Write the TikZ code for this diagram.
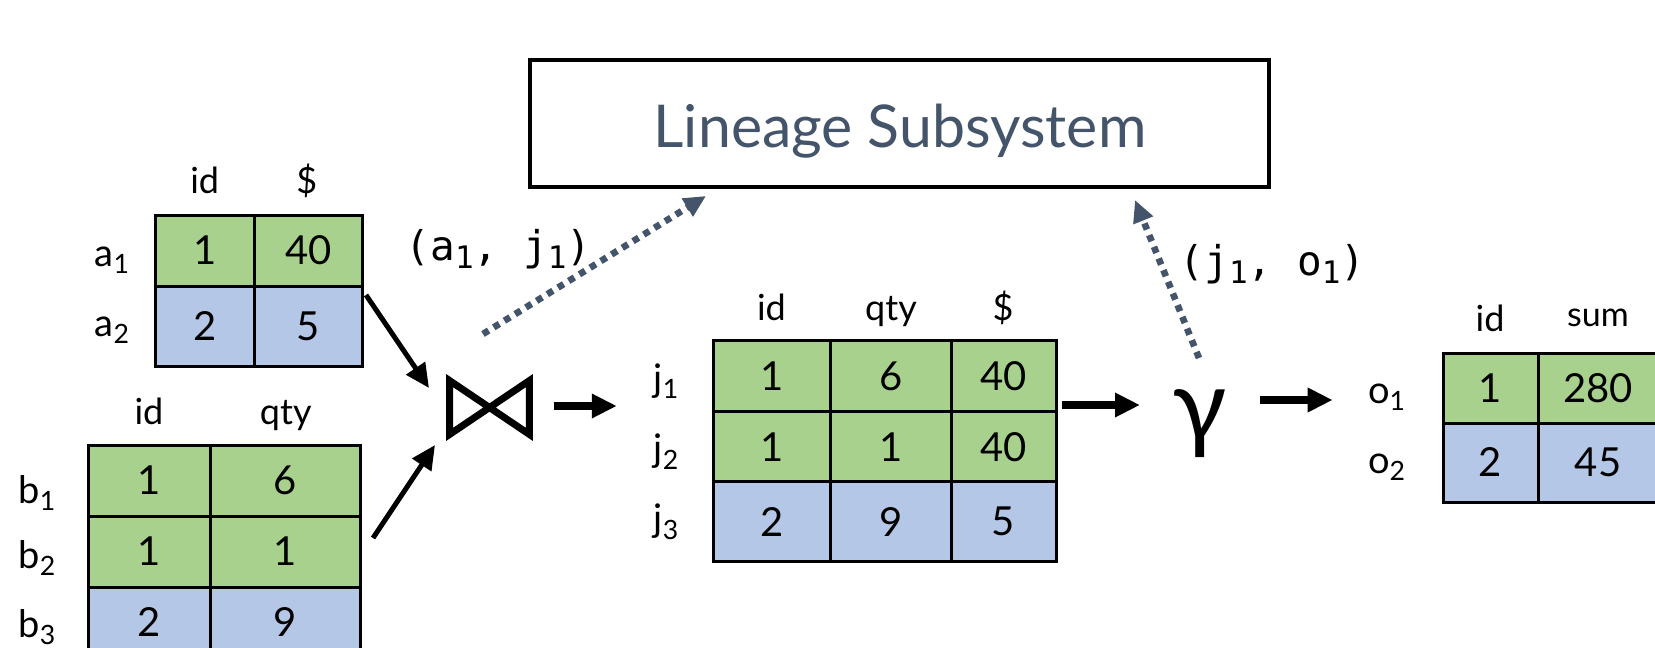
\documentclass[tikz,border=0pt]{standalone}
\usepackage{fontspec}
\setmainfont{Lato}
\newfontfamily\monofam{DejaVu Sans Mono}
\usetikzlibrary{arrows.meta,calc}
\definecolor{cellgreen}{HTML}{A9D18E}
\definecolor{cellblue}{HTML}{B4C7E7}
\definecolor{slate}{HTML}{44546A}
\newlength\pxlen
\setlength\pxlen{0.5pt}
% small lowered digit for the lineage pair labels
\newcommand\monosub[1]{\raisebox{-4pt}{\fontsize{15.5}{16}\selectfont #1}}

\begin{document}
\begin{tikzpicture}[x=0.5pt,y=-0.5pt,
  sz/.style 2 args={minimum width=#1*\pxlen, minimum height=#2*\pxlen},
  cell/.style={draw, line width=1.5pt, inner sep=0pt, font=\fontsize{20}{24}\selectfont},
  gcell/.style={cell, fill=cellgreen},
  bcell/.style={cell, fill=cellblue},
  hdr/.style={anchor=base, inner sep=0pt, font=\fontsize{18}{21}\selectfont},
  rowlab/.style={anchor=base, inner sep=0pt, font=\fontsize{19}{22}\selectfont},
  mono/.style={anchor=base, inner sep=0pt, font=\monofam\fontsize{20.5}{24}\selectfont},
  flow/.style={line width=2.5pt, -{Triangle[length=12pt,width=11pt]}},
  bigflow/.style={line width=4pt, -{Triangle[length=12.5pt,width=11.5pt]}},
  lineage/.style={slate, line width=3.3pt, dash pattern=on 3.3pt off 3pt,
    -{Triangle[length=11pt,width=10pt]}}]

\useasboundingbox (0,0) rectangle (1655,648);
\fill[white] (0,0) rectangle (1655,648);
\clip (0,0) rectangle (1655,648);

% lineage subsystem box
\node[draw, line width=1.6pt, sz={739}{127}] (lineage) at (899.5,123.5) {};
\node[anchor=base, inner sep=0pt, text=slate, font=\fontsize{29.5}{34}\selectfont]
  (lineagelabel) at (900,147) {Lineage Subsystem};

% table a
\node[hdr] (Ah1) at (204.7,193) {id};
\node[hdr] (Ah2) at (306.8,193) {\$};
\node[gcell, sz={99.4}{71}]  (A11) at (204.7,250.5) {1};
\node[gcell, sz={107.6}{71}] (A12) at (308.2,250.5) {40};
\node[bcell, sz={99.4}{80}]  (A21) at (204.7,326) {2};
\node[bcell, sz={107.6}{80}] (A22) at (308.2,326) {5};
\node[rowlab] (Al1) at (112.5,266.7) {a\textsubscript{1}};
\node[rowlab] (Al2) at (112.5,336) {a\textsubscript{2}};

% table b
\node[hdr] (Bh1) at (149,424) {id};
\node[hdr] (Bh2) at (285.8,424) {qty};
\node[gcell, sz={122.4}{71}] (B11) at (149.2,480.5) {1};
\node[gcell, sz={150.1}{71}] (B12) at (285.45,480.5) {6};
\node[gcell, sz={122.4}{71}] (B21) at (149.2,551.5) {1};
\node[gcell, sz={150.1}{71}] (B22) at (285.45,551.5) {1};
\node[bcell, sz={122.4}{71}] (B31) at (149.2,622.5) {2};
\node[bcell, sz={150.1}{71}] (B32) at (285.45,622.5) {9};
\node[rowlab] (Bl1) at (37.5,503) {b\textsubscript{1}};
\node[rowlab] (Bl2) at (37.5,568) {b\textsubscript{2}};
\node[rowlab] (Bl3) at (37.5,637) {b\textsubscript{3}};

% join operator
\node[inner sep=0pt, sz={79}{53}] (join) at (489.5,407.5) {};
\draw[line width=3.5pt] (join.north west) -- (join.south east)
  -- (join.north east) -- (join.south west) -- cycle;

% joined table j
\node[hdr] (Jh1) at (771.4,320) {id};
\node[hdr] (Jh2) at (891,320) {qty};
\node[hdr] (Jh3) at (1003,320) {\$};
\node[gcell, sz={117}{71}]   (J11) at (772,376.2) {1};
\node[gcell, sz={120.4}{71}] (J12) at (890.8,376.2) {6};
\node[gcell, sz={105}{71}]   (J13) at (1003.5,376.2) {40};
\node[gcell, sz={117}{70}]   (J21) at (772,446.7) {1};
\node[gcell, sz={120.4}{70}] (J22) at (890.8,446.7) {1};
\node[gcell, sz={105}{70}]   (J23) at (1003.5,446.7) {40};
\node[bcell, sz={117}{80}]   (J31) at (772,521.7) {2};
\node[bcell, sz={120.4}{80}] (J32) at (890.8,521.7) {9};
\node[bcell, sz={105}{80}]   (J33) at (1003.5,521.7) {5};
\node[rowlab] (Jl1) at (666.5,391.7) {j\textsubscript{1}};
\node[rowlab] (Jl2) at (666.5,461.7) {j\textsubscript{2}};
\node[rowlab] (Jl3) at (666.5,531.7) {j\textsubscript{3}};

% aggregation operator
\node[anchor=base, inner sep=0pt, font=\fontsize{50}{52}\selectfont] (gamma) at (1200,440) {γ};

% output table o
\node[hdr] (Oh1) at (1490,331.7) {id};
\node[hdr, font=\fontsize{17}{20}\selectfont] (Oh2) at (1598,326.7) {sum};
\node[gcell, sz={95}{70}]  (O11) at (1490.5,388) {1};
\node[gcell, sz={120}{70}] (O12) at (1598,388) {280};
\node[bcell, sz={95}{79}]  (O21) at (1490.5,462.5) {2};
\node[bcell, sz={120}{79}] (O22) at (1598,462.5) {45};
\node[rowlab] (Ol1) at (1387,403.3) {o\textsubscript{1}};
\node[rowlab] (Ol2) at (1387,473.3) {o\textsubscript{2}};

% lineage pairs
\node[mono] (pair1) at (498.5,260) {(a\monosub{1}, j\monosub{1})};
\node[mono] (pair2) at (1272.5,275) {(j\monosub{1}, o\monosub{1})};

% connector ends
\coordinate (aS) at (366,295);    \coordinate (aE) at (429,388);
\coordinate (bS) at (373,538);    \coordinate (bE) at (435,445);
\coordinate (jS) at (553.7,406);  \coordinate (jE) at (616.8,406);
\coordinate (gS) at (1062.4,405); \coordinate (gE) at (1140,405);
\coordinate (oS) at (1260,400);   \coordinate (oE) at (1332.7,400);
\coordinate (d1S) at (483,334);   \coordinate (d1E) at (706,196);
\coordinate (d2S) at (1199,358);  \coordinate (d2E) at (1135,200);

% data flow
\draw[flow] (aS) -- (aE);
\draw[flow] (bS) -- (bE);
\draw[bigflow] (jS) -- (jE);
\draw[bigflow] (gS) -- (gE);
\draw[bigflow] (oS) -- (oE);

% lineage capture
\draw[lineage] (d1S) -- (d1E);
\draw[lineage] (d2S) -- (d2E);
\end{tikzpicture}
\end{document}
